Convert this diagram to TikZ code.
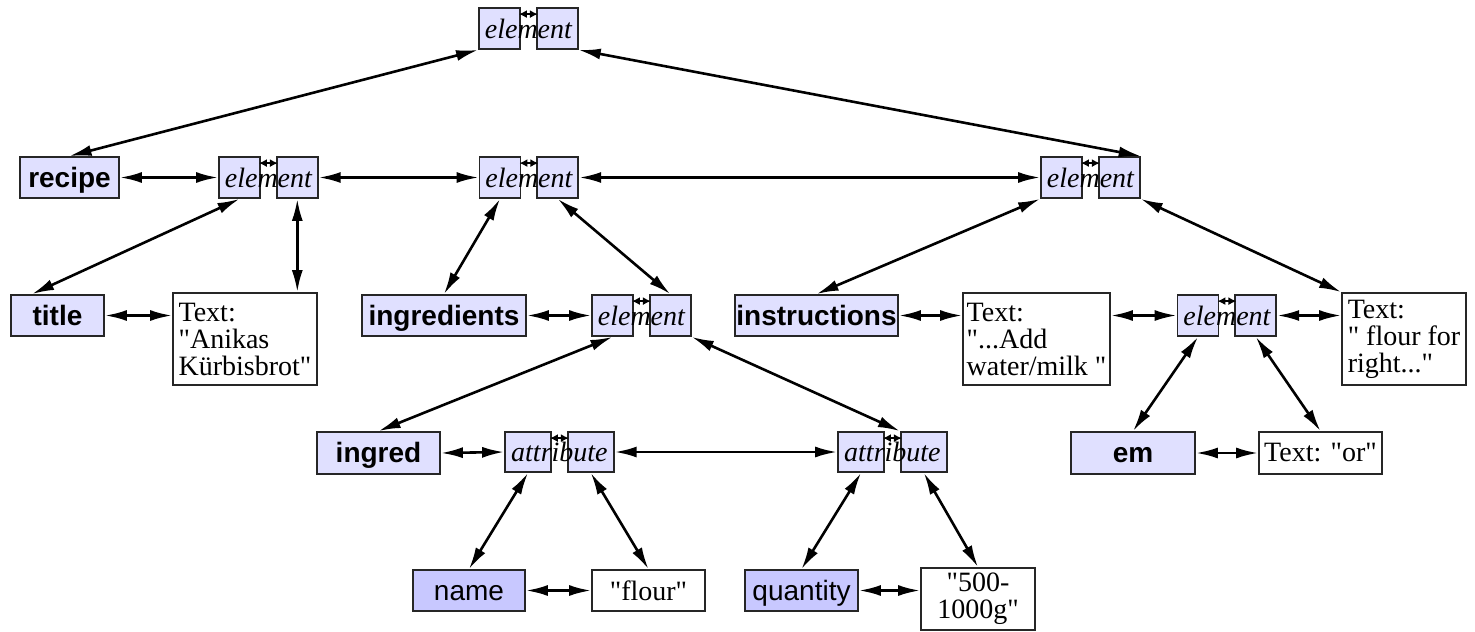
\documentclass[tikz,border=0pt]{standalone}
\usepackage{fontspec}
\setmainfont{Liberation Serif}
\setsansfont{Liberation Sans}
\usepackage{tikz}
\usetikzlibrary{calc,positioning,arrows.meta}
\definecolor{boxfill}{RGB}{224,224,255}
\definecolor{keyfill}{RGB}{200,200,255}
\newcommand{\dq}{\textquotedbl}
\tikzset{
every node/.style={font=\fontsize{14}{13.5}\selectfont}, % all labels at one size
tag/.style={draw=black!85, line width=0.9pt, fill=boxfill, inner sep=0pt,
  minimum height=20.5pt, text height=12.5pt, text depth=3pt,
  font=\sffamily\bfseries\fontsize{14}{13.5}\selectfont},
key/.style={tag, fill=keyfill, font=\sffamily\fontsize{14}{13.5}\selectfont},
txt/.style={draw=black!85, line width=0.9pt, fill=white, inner sep=0pt, align=left},
half/.style={draw=black!85, line width=0.9pt, fill=boxfill, inner sep=0pt,
  minimum width=20.5pt, minimum height=20.5pt},
halfattr/.style={half, minimum width=23pt, minimum height=20pt},
splitword/.style={inner sep=0pt, font=\itshape\fontsize{14}{13.5}\selectfont},
link/.style={line width=1.3pt, {Latex[length=11pt,width=5.5pt]}-{Latex[length=11pt,width=5.5pt]}},
tinylink/.style={line width=0.9pt, {Latex[length=4pt,width=4pt]}-{Latex[length=4pt,width=4pt]}},
}
\tikzset{
    pairmid/.style args={#1 and #2}{
         at = ($(#1)!0.5!(#2)$)
    }
}
% name, x, y, word, box style
\newcommand{\splitbox}[5]{%
  \node[#5] (#1l) at (#2,#3) {};
  \node[#5, right=7.5pt of #1l] (#1r) {};
  \node[splitword, pairmid=#1l and #1r] (#1) {#4};
  \draw[tinylink] ([xshift=-1pt,yshift=-3.5pt]#1l.north east) -- ([xshift=1pt,yshift=-3.5pt]#1r.north west);
}

\begin{document}
\begin{tikzpicture}[x=0.5pt,y=-0.5pt]
   \useasboundingbox (0,0) rectangle (1475,631);
   % element / attribute pairs
   \splitbox{top}{499.5}{28.5}{element}{half}
   \splitbox{el1}{239.5}{177.5}{element}{half}
   \splitbox{el2}{500}{177.5}{element}{half}
   \splitbox{el3}{1061.5}{177.5}{element}{half}
   \splitbox{el4}{612.5}{315.5}{element}{half}
   \splitbox{el5}{1198}{315.5}{element}{half}
   \splitbox{at1}{528}{452}{attribute}{halfattr}
   \splitbox{at2}{861}{452}{attribute}{halfattr}
   % tag names
   \node[tag, minimum width=49.5pt] (recipe) at (69.5,177.5) {recipe};
   \node[tag, minimum width=46.5pt] (title) at (57.5,315.5) {title};
   \node[tag, minimum width=82pt] (ingredients) at (444,315.5) {ingredients};
   \node[tag, minimum width=81.5pt] (instructions) at (816.5,315.5) {instructions};
   \node[tag, minimum width=61.5pt, minimum height=21pt] (ingred) at (378.5,453) {ingred};
   \node[tag, minimum width=62pt, minimum height=21pt] (em) at (1133,453) {em};
   \node[key, minimum width=56pt] (name) at (469,590.5) {name};
   \node[key, minimum width=56.5pt] (quantity) at (801.5,590.5) {quantity};
   % text content
   \node[txt, minimum width=72pt, minimum height=46pt] (anikas) at (245,339)
      {Text:\\\dq Anikas\\Kürbisbrot\dq};
   \node[txt, minimum width=73.5pt, minimum height=46pt] (addwater) at (1036.5,339)
      {Text:\\\dq...Add\\water/milk \dq};
   \node[txt, minimum width=62pt, minimum height=46pt] (flourfor) at (1404,339)
      {Text:\\\dq{} flour for\\right...\dq};
   \node[txt, minimum width=61.5pt, minimum height=21pt] (textor) at (1320.5,453) {Text: \dq or\dq};
   \node[txt, minimum width=56.5pt, minimum height=20.5pt] (flour) at (648.5,590.5) {\dq flour\dq};
   \node[txt, align=center, minimum width=57pt, minimum height=31pt] (amount) at (978,599)
      {\dq 500-\\1000g\dq};
    \path[link]
    (topl.south west) edge (recipe.north)
    (topr.south east) edge (el3r.north east)
    (recipe.east) edge (el1l.west)
    (el1r.east) edge (el2l.west)
    (el2r.east) edge (el3l.west)
    (el1l.south) edge (title.140)
    (el1r.south) edge (el1r.south |- anikas.north)
    (el2l.south) edge (ingredients.north)
    (el2r.south) edge (el4r.north)
    (el3l.south west) edge (instructions.north)
    (el3r.south east) edge (flourfor.north west)
    (title.east) edge (title.east -| anikas.west)
    (ingredients.east) edge (el4l.west)
    (instructions.east) edge (instructions.east -| addwater.west)
    (el5l.west -| addwater.east) edge (el5l.west)
    (el5r.east) edge (el5r.east -| flourfor.west)
    (el4l.south) edge (ingred.north)
    (el4r.south east) edge (at2r.north west)
    (ingred.east) edge (at1l.west)
    (at1r.east) edge (at2l.west)
    (el5l.south) edge (em.north)
    (el5r.south) edge (textor.north)
    (em.east) edge (textor.west)
    (at1l.south) edge (name.north)
    (at1r.south) edge (flour.north)
    (at2l.south) edge (quantity.north)
    (at2r.south) edge (amount.north)
    (name.east) edge (flour.west)
    (quantity.east) edge (quantity.east -| amount.west);
\end{tikzpicture}
\end{document}
